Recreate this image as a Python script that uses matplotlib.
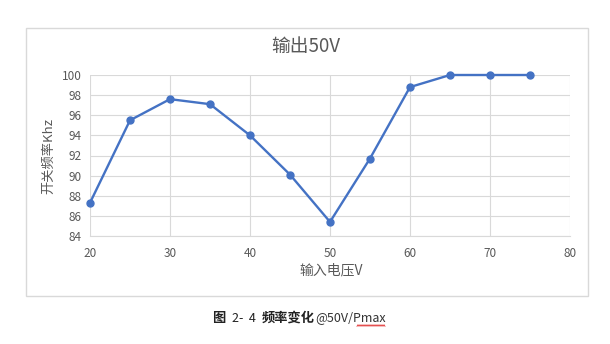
import matplotlib
matplotlib.use("Agg")
import matplotlib.pyplot as plt
from matplotlib.patches import Rectangle
import numpy as np

plt.rcParams['font.family'] = ['Noto Sans CJK SC', 'DejaVu Sans']

voltage = [20, 25, 30, 35, 40, 45, 50, 55, 60, 65, 70, 75]
freq_khz = [87.3, 95.5, 97.6, 97.1, 94.0, 90.1, 85.4, 91.7, 98.8, 100, 100, 100]
x_ticks = [20, 30, 40, 50, 60, 70, 80]
y_ticks = [84, 86, 88, 90, 92, 94, 96, 98, 100]

title = "输出50V"
x_label = "输入电压V"
y_label = "开关频率Khz"

W, H = 610, 344
fig = plt.figure(figsize=(W / 100, H / 100), dpi=100)

# chart border
fig.patches.append(Rectangle((26 / W, 1 - 296 / H), (588 - 26) / W, (296 - 28) / H,
                             transform=fig.transFigure, fill=False,
                             edgecolor='#d9d9d9', linewidth=1.0))

ax = fig.add_axes([90 / W, 1 - 236 / H, (570 - 90) / W, (236 - 75) / H])
line_color = '#4472C4'
text_color = '#595959'
grid_color = '#d9d9d9'

ax.plot(voltage, freq_khz, color=line_color, linewidth=1.7, marker='o',
        markersize=5, markerfacecolor=line_color, markeredgecolor=line_color,
        zorder=3, clip_on=False)

ax.set_xlim(20, 80)
ax.set_ylim(84, 100)
ax.set_xticks(x_ticks)
ax.set_yticks(y_ticks)
ax.grid(True, color=grid_color, linewidth=0.8)
ax.set_axisbelow(True)
for side in ['top', 'right', 'left']:
    ax.spines[side].set_visible(False)
ax.spines['bottom'].set_color(grid_color)
ax.spines['bottom'].set_linewidth(0.8)
ax.tick_params(axis='x', length=0, labelsize=8.5, colors=text_color, pad=8)
ax.tick_params(axis='y', length=0, labelsize=8.5, colors=text_color, pad=6)
for lbl in ax.get_xticklabels() + ax.get_yticklabels():
    lbl.set_color(text_color)

fig.text(306 / W, 1 - 46 / H, title, ha='center', va='center', fontsize=13.5,
         color=text_color)
fig.text(331 / W, 1 - 270 / H, x_label, ha='center', va='center', fontsize=10,
         color=text_color)
fig.text(49 / W, 1 - 156 / H, y_label, ha='center', va='center', fontsize=9.5,
         color=text_color, rotation=90)

# figure caption
cap_y = 1 - 318 / H
fig.text(212 / W, cap_y, "图", ha='left', va='center', fontsize=9.5,
         color='#222222', fontweight='bold')
fig.text(232 / W, cap_y, "2-  4", ha='left', va='center', fontsize=9,
         color='#222222')
fig.text(262 / W, cap_y, "频率变化", ha='left', va='center', fontsize=9.5,
         color='#222222', fontweight='bold')
fig.text(315 / W, cap_y, "@50V/Pmax", ha='left', va='center', fontsize=9,
         color='#333333')

# wavy underline below "Pmax"
wx = np.linspace(357, 385, 29)
wy = 325.5 + 0.8 * np.where(np.arange(29) % 2 == 0, 1, -1)
fig.lines.append(plt.Line2D(wx / W, 1 - wy / H, transform=fig.transFigure,
                            color='#e03030', linewidth=0.6))

fig.savefig("out.png", dpi=100)
